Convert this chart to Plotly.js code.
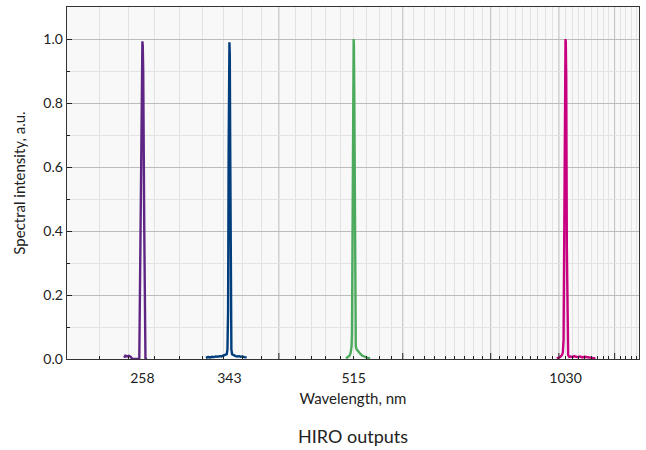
<!DOCTYPE html>
<html>
<head>
<meta charset="utf-8">
<script src="https://cdn.plot.ly/plotly-3.0.1.min.js"></script>
<style>html,body{margin:0;padding:0;background:#fff;}#chart{width:646px;height:450px;}</style>
</head>
<body>
<div id="chart"></div>
<script>
// ---- data ----
var wl258 = [243, 244, 245.5, 247, 248.5, 249.5, 255.4, 256.4, 257.3, 257.7, 258, 258.3, 258.7, 259.6, 260.6, 262];
var int258 = [0.004, 0.01, 0.008, 0.01, 0.006, 0, 0, 0.4, 0.9, 0.98, 0.993, 0.98, 0.9, 0.4, 0, 0];

var wl343 = [317.6, 320, 322, 324, 326, 328, 330, 332, 334, 336, 338, 340, 340.8, 341.5, 342.1, 342.6, 343, 343.4, 343.9, 344.5, 345.2, 346, 348, 350, 352, 354, 356, 358, 360, 362.9];
var int343 = [0.004, 0.006, 0.005, 0.007, 0.006, 0.008, 0.007, 0.009, 0.008, 0.010, 0.012, 0.015, 0.03, 0.15, 0.65, 0.95, 0.99, 0.95, 0.65, 0.15, 0.03, 0.015, 0.011, 0.009, 0.008, 0.009, 0.007, 0.008, 0.006, 0.005];

var wl515 = [502.3, 505, 508, 510, 511.5, 512.2, 513, 514, 514.6, 515, 515.4, 516, 517, 517.8, 518.6, 520, 522, 524, 527, 530, 534, 538, 543.5];
var int515 = [0.002, 0.005, 0.01, 0.02, 0.04, 0.08, 0.35, 0.85, 0.98, 1.0, 0.98, 0.85, 0.35, 0.08, 0.04, 0.03, 0.025, 0.02, 0.015, 0.01, 0.006, 0.004, 0.002];

var wl1030 = [1001, 1006, 1012, 1018, 1021, 1023.5, 1025.5, 1027.5, 1029, 1030, 1031, 1032.5, 1034.5, 1036.5, 1039, 1043, 1048, 1054, 1060, 1066, 1072, 1080, 1088, 1096, 1104, 1112, 1120, 1128, 1136];
var int1030 = [0.002, 0.004, 0.006, 0.012, 0.02, 0.06, 0.35, 0.88, 0.99, 1.0, 0.99, 0.88, 0.35, 0.05, 0.012, 0.006, 0.008, 0.006, 0.009, 0.007, 0.006, 0.008, 0.005, 0.007, 0.006, 0.005, 0.006, 0.004, 0.002];

var peakTicks = [258, 343, 515, 1030];
var peakLabels = ['258', '343', '515', '1030'];
var colors = ['#5e2585', '#003d7c', '#4caa5c', '#c8007f'];

// ---- grid positions (axis styling only) ----
var gridBase = 201.6;
var xMin = 201.6, xMax = 1310;
var majorGrid = [], minorGrid = [];
for (var k = 2; k * gridBase <= xMax; k++) majorGrid.push(k * gridBase);
for (var j = 10; gridBase * j / 9 <= xMax; j++) { if (j % 9 !== 0) minorGrid.push(gridBase * j / 9); }

var FONT = 'Lato, "Source Sans Pro", "Noto Sans", sans-serif';
var TXT = '#222';

var series = [[wl258, int258], [wl343, int343], [wl515, int515], [wl1030, int1030]];
var traces = series.map(function (s, i) {
  return {
    x: s[0], y: s[1], type: 'scatter', mode: 'lines',
    line: {color: colors[i], width: 2.4},
    showlegend: false, hoverinfo: 'x+y'
  };
});

var shapes = [];
majorGrid.forEach(function (v) {
  shapes.push({type: 'line', xref: 'x', yref: 'paper', x0: v, x1: v, y0: 0, y1: 1,
               layer: 'between', line: {color: '#bcbcbc', width: 1}});
  shapes.push({type: 'line', xref: 'x', yref: 'paper', ysizemode: 'pixel', yanchor: 0,
               x0: v, x1: v, y0: 0, y1: 6, layer: 'above', line: {color: '#222', width: 1}});
});

var layout = {
  width: 646, height: 450,
  margin: {l: 67, r: 7, t: 7, b: 91},
  paper_bgcolor: '#ffffff',
  plot_bgcolor: '#f8f8f8',
  font: {family: FONT, size: 14, color: TXT},
  showlegend: false,
  shapes: shapes,
  title: {text: 'HIRO outputs', x: 0.5, xref: 'paper', y: 0.029, yref: 'container', yanchor: 'middle',
          font: {family: FONT, size: 18, color: TXT}},
  xaxis: {
    type: 'log', range: [Math.log10(xMin), Math.log10(xMax)],
    tickmode: 'array', tickvals: peakTicks, ticktext: peakLabels,
    ticks: '', showgrid: false, ticklabelstandoff: 6,
    tickfont: {family: FONT, size: 14, color: TXT},
    showline: true, linecolor: '#333', linewidth: 1.3, mirror: true,
    zeroline: false,
    title: {text: 'Wavelength, nm', font: {family: FONT, size: 15, color: TXT}, standoff: 8},
    minor: {tickmode: 'array', tickvals: minorGrid, ticks: 'inside', ticklen: 3, tickcolor: '#222',
            showgrid: true, gridcolor: '#e3e3e3', gridwidth: 1}
  },
  yaxis: {
    range: [0, 1.1], tickmode: 'linear', tick0: 0, dtick: 0.2, tickformat: '.1f',
    ticks: 'inside', ticklen: 5, tickcolor: '#222',
    showgrid: true, gridcolor: '#bcbcbc', gridwidth: 1,
    showline: true, linecolor: '#333', linewidth: 1.3, mirror: true,
    zeroline: false,
    tickfont: {family: FONT, size: 14, color: TXT},
    title: {text: 'Spectral intensity, a.u.', font: {family: FONT, size: 15, color: TXT}, standoff: 14},
    minor: {dtick: 0.1, tick0: 0, ticks: 'inside', ticklen: 3, tickcolor: '#222',
            showgrid: true, gridcolor: '#e3e3e3', gridwidth: 1}
  }
};

Plotly.newPlot('chart', traces, layout, {displayModeBar: false, staticPlot: true});
</script>
</body>
</html>
